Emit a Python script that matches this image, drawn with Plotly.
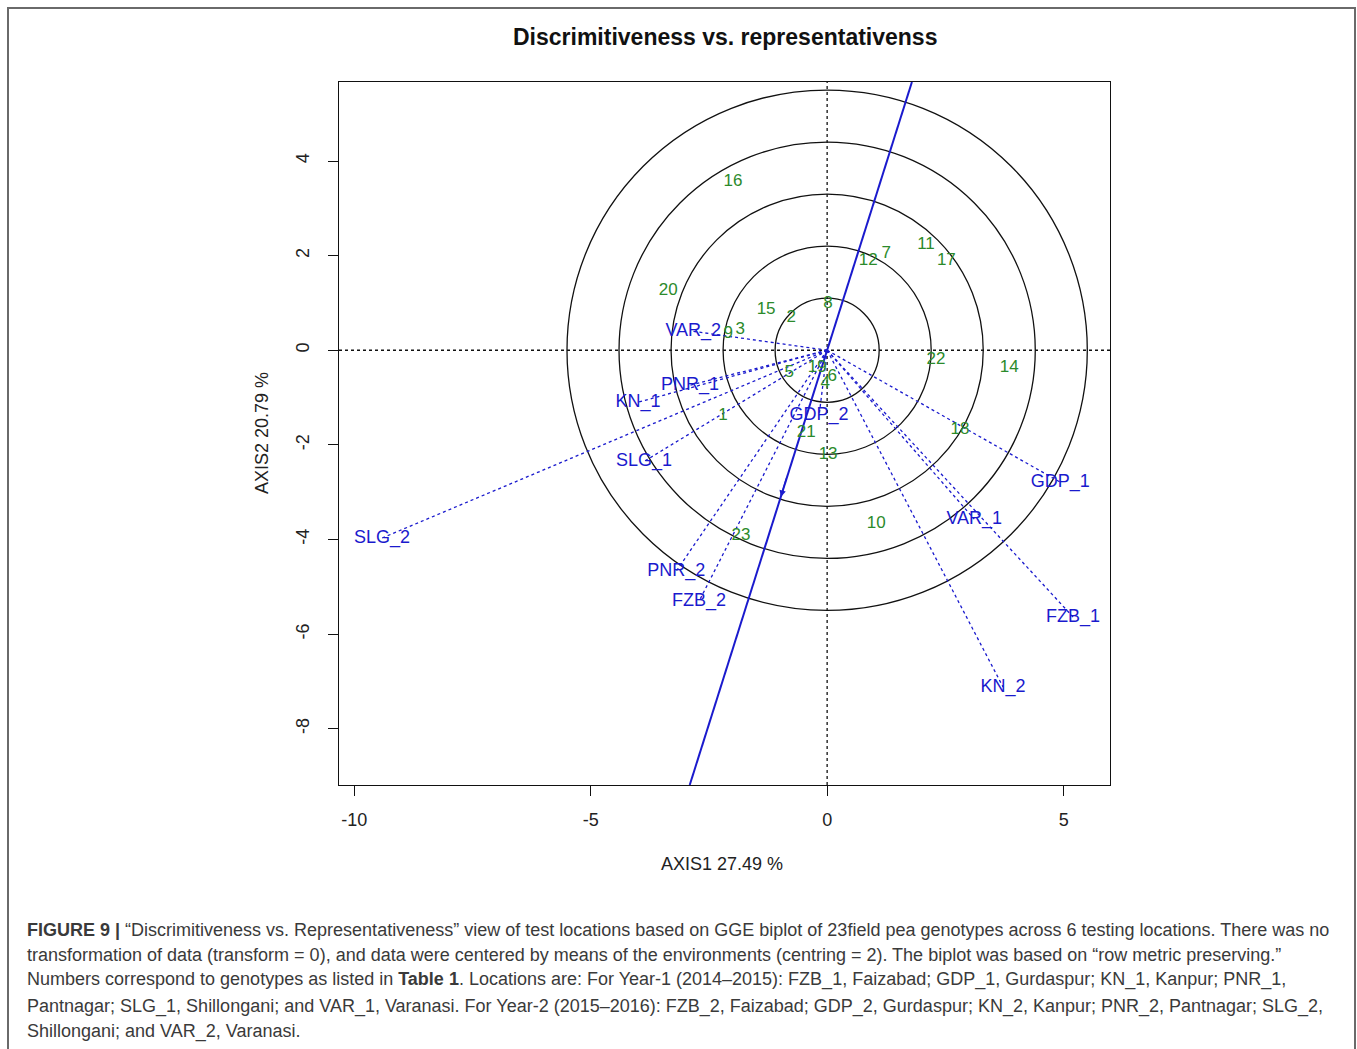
import plotly.graph_objects as go

# Environment (location) vector end points
env_names = ["SLG_2", "GDP_1", "FZB_1", "KN_2", "VAR_1", "FZB_2", "PNR_2",
             "SLG_1", "KN_1", "PNR_1", "VAR_2", "GDP_2"]
env_x = [-9.41, 4.93, 5.20, 3.72, 3.11, -2.71, -3.19, -3.87, -4.00, -2.90, -2.83, -0.17]
env_y = [-3.97, -2.79, -5.64, -7.12, -3.57, -5.31, -4.67, -2.35, -1.10, -0.74, 0.40, -1.38]

# Genotype scores
gen_names = ["16", "20", "15", "2", "8", "3", "9", "12", "7", "11", "17", "22",
             "14", "18", "10", "23", "13", "21", "1", "5", "19", "4", "6"]
gen_x = [-1.99, -3.36, -1.29, -0.76, 0.02, -1.84, -2.09, 0.87, 1.25, 2.09, 2.52, 2.30,
         3.85, 2.81, 1.04, -1.82, 0.02, -0.44, -2.20, -0.80, -0.21, -0.04, 0.11]
gen_y = [3.57, 1.25, 0.85, 0.68, 0.99, 0.44, 0.34, 1.90, 2.03, 2.22, 1.90, -0.21,
         -0.36, -1.69, -3.66, -3.93, -2.20, -1.74, -1.39, -0.47, -0.36, -0.70, -0.57]

# Average environment coordinate (defines the AEA through the origin)
avg_env = [-0.98, -3.10]

# Concentric circle radii
circle_r = [1.1, 2.2, 3.3, 4.4, 5.5]

x_ticks = [-10, -5, 0, 5]
x_ticktext = ["-10", "-5", "0", "5"]
y_ticks = [-8, -6, -4, -2, 0, 2, 4]
y_ticktext = ["-8", "-6", "-4", "-2", "0", "2", "4"]
x_range = [-10.32, 5.98]
y_range = [-9.19, 5.67]

BLUE = "#1a1acd"
GREEN = "#2b8a2b"
FONT = "Liberation Sans, Arial, sans-serif"

fig = go.Figure()

# Environment vectors from the origin
for nm, ex, ey in zip(env_names, env_x, env_y):
    fig.add_trace(go.Scatter(x=[0, ex], y=[0, ey], mode="lines",
                             line=dict(color=BLUE, width=1.3, dash="dot"),
                             hoverinfo="skip", showlegend=False))

# Average environment axis, extended across the plotting region
t_max = y_range[1] / avg_env[1]
t_min = y_range[0] / avg_env[1]
fig.add_trace(go.Scatter(x=[avg_env[0] * t_min, avg_env[0] * t_max],
                         y=[avg_env[1] * t_min, avg_env[1] * t_max],
                         mode="lines", line=dict(color=BLUE, width=2),
                         hoverinfo="skip", showlegend=False))

fig.add_trace(go.Scatter(x=env_x, y=env_y, mode="text", text=env_names,
                         textfont=dict(color=BLUE, size=18, family=FONT),
                         hoverinfo="text", showlegend=False))
fig.add_trace(go.Scatter(x=gen_x, y=gen_y, mode="text", text=gen_names,
                         textfont=dict(color=GREEN, size=17, family=FONT),
                         hoverinfo="text", showlegend=False))

shapes = []
for r in circle_r:
    shapes.append(dict(type="circle", xref="x", yref="y", x0=-r, y0=-r, x1=r, y1=r,
                       line=dict(color="#111111", width=1.3), layer="below"))
# dotted reference axes through the origin
shapes.append(dict(type="line", xref="x", yref="y", x0=x_range[0], x1=x_range[1], y0=0, y1=0,
                   line=dict(color="#111111", width=1.3, dash="dot"), layer="below"))
shapes.append(dict(type="line", xref="x", yref="y", x0=0, x1=0, y0=y_range[0], y1=y_range[1],
                   line=dict(color="#111111", width=1.3, dash="dot"), layer="below"))

# Outer figure frame (plot area spans x 339..1110, y 82..785 px)
PL, PR, PT, PB = 339, 1110, 82, 785
PW, PH = PR - PL, PB - PT


def px(x):
    return (x - PL) / PW


def py(y):
    return (PB - y) / PH


shapes.append(dict(type="rect", xref="paper", yref="paper",
                   x0=px(8), x1=px(1355), y0=py(1060), y1=py(8),
                   line=dict(color="#6a6a6a", width=2)))

annotations = [
    dict(x=avg_env[0], y=avg_env[1], xref="x", yref="y", ax=6, ay=-20,
         showarrow=True, arrowhead=2, arrowsize=1, arrowwidth=1.3, arrowcolor=BLUE, text=""),
    dict(text="<b>Discrimitiveness vs. representativenss</b>", x=px(725), y=py(37),
         xref="paper", yref="paper", xanchor="center", yanchor="middle", showarrow=False,
         font=dict(size=23, color="#111111", family=FONT)),
    dict(text="AXIS1 27.49 %", x=px(722), y=py(864), xref="paper", yref="paper",
         xanchor="center", yanchor="middle",
         showarrow=False, font=dict(size=18, color="#222222", family=FONT)),
    dict(text="AXIS2 20.79 %", x=px(262), y=py(433), xref="paper", yref="paper",
         xanchor="center", yanchor="middle",
         showarrow=False, textangle=-90, font=dict(size=18, color="#222222", family=FONT)),
]

caption = [
    "<b>FIGURE 9 |</b> “Discrimitiveness vs. Representativeness” view of test locations based on GGE biplot of 23field pea genotypes across 6 testing locations. There was no",
    "transformation of data (transform = 0), and data were centered by means of the environments (centring = 2). The biplot was based on “row metric preserving.”",
    "Numbers correspond to genotypes as listed in <b>Table 1</b>. Locations are: For Year-1 (2014–2015): FZB_1, Faizabad; GDP_1, Gurdaspur; KN_1, Kanpur; PNR_1,",
    "Pantnagar; SLG_1, Shillongani; and VAR_1, Varanasi. For Year-2 (2015–2016): FZB_2, Faizabad; GDP_2, Gurdaspur; KN_2, Kanpur; PNR_2, Pantnagar; SLG_2,",
    "Shillongani; and VAR_2, Varanasi.",
]
cap_y = [930, 955, 980, 1006, 1031]
for line, yy in zip(caption, cap_y):
    annotations.append(dict(text=line, x=px(25), y=py(yy), xref="paper", yref="paper",
                            xanchor="left", yanchor="middle", showarrow=False,
                            font=dict(size=18, color="#3a3a3a", family=FONT)))

fig.update_layout(
    width=1357, height=1049,
    margin=dict(l=PL, r=1357 - PR, t=PT, b=1049 - PB),
    paper_bgcolor="white", plot_bgcolor="white",
    shapes=shapes, annotations=annotations,
    font=dict(family=FONT, color="#222222"),
    xaxis=dict(range=x_range, tickvals=x_ticks, ticktext=x_ticktext, showgrid=False, zeroline=False,
               showline=True, mirror=True, linecolor="#111111", linewidth=1.3,
               ticks="outside", ticklen=10, tickcolor="#111111", tickwidth=1.3,
               tickfont=dict(size=18, color="#222222"), ticklabelstandoff=8),
    yaxis=dict(range=y_range, tickvals=y_ticks, ticktext=y_ticktext, showgrid=False, zeroline=False,
               showline=True, mirror=True, linecolor="#111111", linewidth=1.3,
               ticks="outside", ticklen=10, tickcolor="#111111", tickwidth=1.3,
               tickangle=-90, tickfont=dict(size=18, color="#222222"), ticklabelstandoff=12),
)

fig.write_html("out.html")
